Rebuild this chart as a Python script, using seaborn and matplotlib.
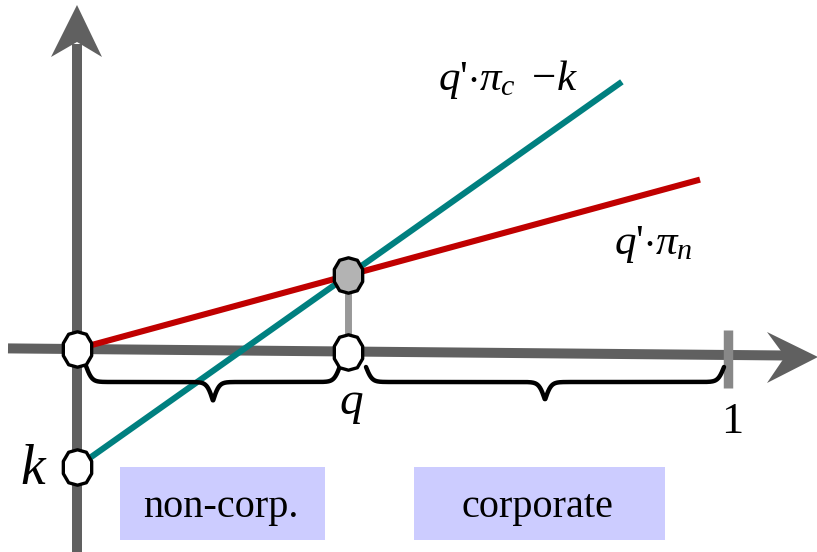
import numpy as np
import pandas as pd
import matplotlib
matplotlib.use("Agg")
import matplotlib.pyplot as plt
import seaborn as sns
from matplotlib.path import Path
from matplotlib.patches import Rectangle, Polygon

# ---- data ----
series = ["corporate", "non-corporate"]
pi_values = [3.9, 1.5]          # slopes pi_c, pi_n
k_value = 1.0                   # fixed cost k
q_end = [0.837, 0.957]          # where each line stops
line_labels = [r"$q$'$\cdot\pi_c\ -\!k$", r"$q$'$\cdot\pi_n$"]
region_labels = ["non-corp.", "corporate"]
tick_label = "1"

sns.set_theme(style="white")
plt.rcParams["mathtext.fontset"] = "custom"
plt.rcParams["mathtext.rm"] = "Liberation Serif"
plt.rcParams["mathtext.it"] = "Liberation Serif:italic"
plt.rcParams["mathtext.bf"] = "Liberation Serif:bold"
plt.rcParams["font.family"] = ["Liberation Serif", "DejaVu Serif"]
plt.rcParams["text.color"] = "black"
SERIF = "Liberation Serif"

W, H = 817, 552
fig = plt.figure(figsize=(8.17, 5.52), dpi=100)
ax = fig.add_axes([0, 0, 1, 1])
X0, Y0, SX, SY = 77, 349, 651, 118
ax.set_xlim(-X0 / SX, (W - X0) / SX)
ax.set_ylim((Y0 - H) / SY, Y0 / SY)
ax.axis("off")


def P(px, py):
    return ((px - X0) / SX, (Y0 - py) / SY)


AX_COL = "#606060"
# axes lines
hx = [P(8, 348.4), P(786, 355.5)]
ax.plot([hx[0][0], hx[1][0]], [hx[0][1], hx[1][1]], color=AX_COL, lw=7.2,
        solid_capstyle="butt", zorder=1)
vx = [P(77, 560), P(77, 44)]
ax.plot([vx[0][0], vx[1][0]], [vx[0][1], vx[1][1]], color=AX_COL, lw=7.2,
        solid_capstyle="butt", zorder=1)
ax.add_patch(Polygon([P(818, 357), P(767, 332), P(785, 356.5), P(767, 383)],
                     closed=True, fc=AX_COL, ec="none", zorder=1))
ax.add_patch(Polygon([P(77, 5), P(102, 57), P(77, 42), P(51, 57)],
                     closed=True, fc=AX_COL, ec="none", zorder=1))
# tick at 1
t0, t1 = P(728, 330), P(728, 388)
ax.plot([t0[0], t1[0]], [t0[1], t1[1]], color="#888888", lw=6.8,
        solid_capstyle="butt", zorder=1)

# ---- lines from data ----
rows = []
for s, pi, qe in zip(series, pi_values, q_end):
    off = k_value if s == "corporate" else 0.0
    for qq in (0.0, qe):
        rows.append({"q": qq, "value": pi * qq - off, "series": s})
df = pd.DataFrame(rows)
sns.lineplot(data=df, x="q", y="value", hue="series",
             palette={"corporate": "#008080", "non-corporate": "#c00000"},
             linewidth=4.4, legend=False, ax=ax, zorder=3, sort=False)
for ln in ax.lines[-2:]:
    ln.set_solid_capstyle("butt")

# intersection
q_star = k_value / (pi_values[0] - pi_values[1])
y_star = pi_values[1] * q_star
axis_slope = (hx[1][1] - hx[0][1]) / (hx[1][0] - hx[0][0])
y_axis_star = hx[0][1] + axis_slope * (q_star - hx[0][0])
ax.plot([q_star, q_star], [y_star, y_axis_star], color="#999999", lw=5,
        solid_capstyle="butt", zorder=2)

# node markers
verts = [(0, 1), (0.5, 0.86), (0.8, 0.35), (0.8, -0.35), (0.5, -0.86),
         (0, -1), (-0.5, -0.86), (-0.8, -0.35), (-0.8, 0.35), (-0.5, 0.86), (0, 1)]
node = Path(verts, closed=True)
pts_white = [(0.0, 0.0), (0.0, -k_value), (q_star, y_axis_star)]
for (xx, yy) in pts_white:
    ax.plot([xx], [yy], marker=node, ms=25.5, mfc="white", mec="black",
            mew=2.4, zorder=5)
ax.plot([q_star], [y_star], marker=node, ms=25.5, mfc="#b3b3b3", mec="black",
        mew=2.4, zorder=5)


# braces
def brace(px0, px1, ytop, yline, ytip, scale=3.0):
    xs = np.linspace(px0, px1, 600)
    xm = (px0 + px1) / 2
    d = np.minimum(xs - px0, px1 - xs)
    dm = xm - px0
    a = 1 / (1 + np.exp(-(d) / scale))
    b = 1 / (1 + np.exp(-(d - dm) / scale))
    a = (a - 0.5) * 2
    ys = ytop + a * (yline - ytop) + np.clip(b, 0, 0.5) * 2 * (ytip - yline)
    pts = [P(x, y) for x, y in zip(xs, ys)]
    ax.plot([p[0] for p in pts], [p[1] for p in pts], color="black", lw=3.2,
            zorder=4, solid_capstyle="round")


brace(86, 340, 366, 382, 401)
brace(366, 724, 367, 382, 400)

# region boxes
for (x0, x1), lab in zip([(120, 325), (414, 665)], region_labels):
    ll = P(x0, 540)
    ur = P(x1, 467)
    ax.add_patch(Rectangle(ll, ur[0] - ll[0], ur[1] - ll[1], fc="#ccccff",
                           ec="none", zorder=1))
    c = P((x0 + x1) / 2 - 2, 517)
    ax.text(c[0], c[1], lab, ha="center", va="baseline", fontsize=29,
            color="black", family=SERIF, zorder=6)

# labels
p = P(438, 90)
ax.text(p[0], p[1], line_labels[0], ha="left", va="baseline", fontsize=31,
        color="black", family=SERIF, zorder=6)
p = P(614, 254)
ax.text(p[0], p[1], line_labels[1], ha="left", va="baseline", fontsize=31,
        color="black", family=SERIF, zorder=6)
p = P(351, 414)
ax.text(p[0], p[1], r"$q$", ha="center", va="baseline", fontsize=34,
        color="black", family=SERIF, zorder=6)
p = P(34, 484)
ax.text(p[0], p[1], r"$k$", ha="center", va="baseline", fontsize=40,
        color="black", family=SERIF, zorder=6)
p = P(732, 433)
ax.text(p[0], p[1], tick_label, ha="center", va="baseline", fontsize=32,
        color="black", family=SERIF, zorder=6)

fig.savefig("out.png", dpi=100)
